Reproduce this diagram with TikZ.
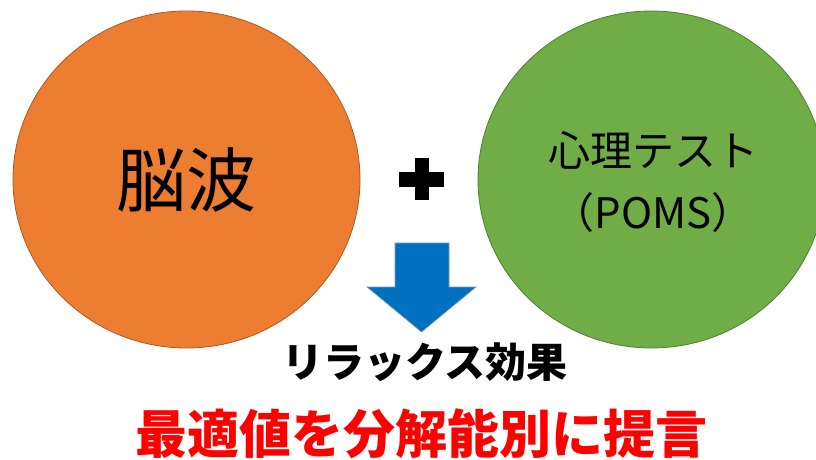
\documentclass[tikz,border=0pt]{standalone}
\usepackage{fontspec}
\newfontfamily\jp{Noto Sans CJK JP}
\usetikzlibrary{shapes.geometric}
\definecolor{orangefill}{HTML}{ED7D31}
\definecolor{orangeline}{HTML}{AE5A21}
\definecolor{greenfill}{HTML}{70AD47}
\definecolor{greenline}{HTML}{507E32}
\definecolor{arrowblue}{HTML}{0070C0}
\definecolor{arrowline}{HTML}{8A9AAA}
\definecolor{redtext}{HTML}{FF0000}
\begin{document}
\begin{tikzpicture}[x=1pt,y=-1pt,
  bubble/.style={ellipse, minimum width=347pt, minimum height=337pt, inner sep=0pt, line width=0.8pt, align=center},
  label/.style={font=\jp, inner sep=0pt, align=center}]
\useasboundingbox (0,0) rectangle (816,460);
\node[bubble, fill=orangefill, draw=orangeline,
      font=\jp\fontsize{70}{84}\selectfont] (eeg) at (186.5,179.5) {脳波};
\node[bubble, fill=greenfill, draw=greenline] (psy) at (651.5,179.5) {};
\node[label, font=\jp\fontsize{42}{62}\selectfont] (psytext) at (653,182) {心理テスト\\（POMS）};
\fill[black] (415,158) rectangle (429,200);
\fill[black] (399,172) rectangle (444,187);
\draw[fill=arrowblue, draw=arrowline, line width=0.6pt]
  (395,243) -- (449,243) -- (449,287) -- (476,287) -- (421.5,332) -- (367,287) -- (395,287) -- cycle;
\node[label, font=\jp\bfseries\fontsize{41}{48}\selectfont] (relax) at (425,362) {リラックス効果};
\node[label, text=redtext, font=\jp\bfseries\fontsize{52}{60}\selectfont] (propose) at (421,434) {最適値を分解能別に提言};
\end{tikzpicture}
\end{document}
